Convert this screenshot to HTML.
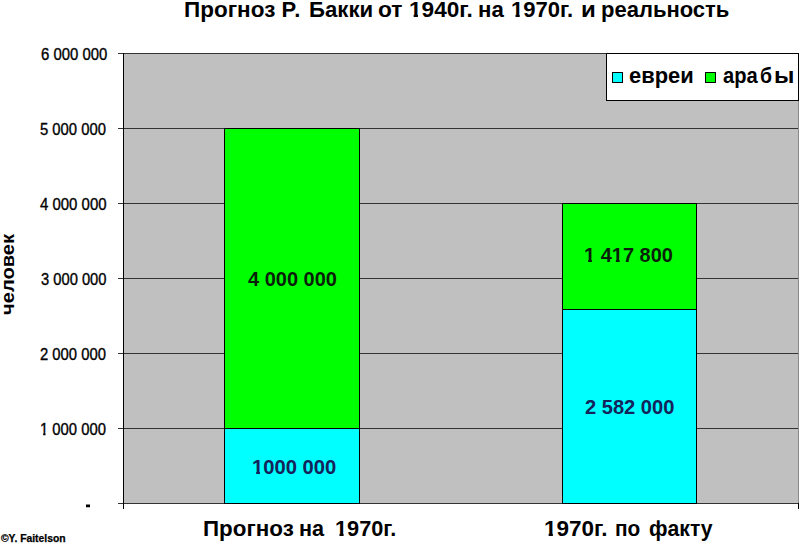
<!DOCTYPE html>
<html>
<head>
<meta charset="utf-8">
<style>
html,body{margin:0;padding:0;background:#fff;}
body{width:800px;height:544px;position:relative;overflow:hidden;font-family:"Liberation Sans",sans-serif;color:#000;}
.t{position:absolute;white-space:nowrap;line-height:1;transform-origin:0 0;}
svg{position:absolute;left:0;top:0;}
.one{display:inline-block;clip-path:polygon(-0.2em -0.2em,0.8em -0.2em,0.8em 0.68em,0.395em 0.68em,0.395em 1.2em,0.205em 1.2em,0.205em 0.68em,-0.2em 0.68em);}
.one.r{clip-path:polygon(-0.2em -0.2em,0.8em -0.2em,0.8em 0.68em,0.37em 0.68em,0.37em 1.2em,0.215em 1.2em,0.215em 0.68em,-0.2em 0.68em);}
</style>
</head>
<body>
<svg width="800" height="544" viewBox="0 0 800 544" shape-rendering="crispEdges">
  <!-- plot area -->
  <rect x="124" y="53" width="674" height="450" fill="#c0c0c0"/>
  <!-- gridlines -->
  <g stroke="#333" stroke-width="1">
    <line x1="118" y1="53.5" x2="798" y2="53.5"/>
    <line x1="118" y1="128.5" x2="798" y2="128.5"/>
    <line x1="118" y1="203.5" x2="798" y2="203.5"/>
    <line x1="118" y1="278.5" x2="798" y2="278.5"/>
    <line x1="118" y1="353.5" x2="798" y2="353.5"/>
    <line x1="118" y1="428.5" x2="798" y2="428.5"/>
    <line x1="118" y1="503.5" x2="799" y2="503.5"/>
  </g>
  <!-- bars -->
  <rect x="224.5" y="128.5" width="135" height="300" fill="#00ff00" stroke="#000"/>
  <rect x="224.5" y="428.5" width="135" height="75" fill="#00ffff" stroke="#000"/>
  <rect x="562.5" y="203.5" width="134" height="106" fill="#00ff00" stroke="#000"/>
  <rect x="562.5" y="309.5" width="134" height="194" fill="#00ffff" stroke="#000"/>
  <line x1="798.5" y1="53" x2="798.5" y2="503" stroke="#8a8a8a"/>
  <!-- axes -->
  <line x1="123.5" y1="53" x2="123.5" y2="509" stroke="#000"/>
  <line x1="798.5" y1="503" x2="798.5" y2="509" stroke="#000"/>
  <!-- legend -->
  <rect x="606.5" y="53.5" width="192" height="47" fill="#fff" stroke="#000"/>
  <rect x="612.5" y="72.5" width="10" height="10" fill="#00ffff" stroke="#000"/>
  <rect x="705.5" y="72.5" width="10" height="10" fill="#00ff00" stroke="#000"/>
  <rect x="86" y="504.5" width="4" height="2.75" fill="#000" shape-rendering="geometricPrecision"/>
</svg>
<div class="t" id="tt0" style="left:183.58px;top:-1.00px;font-size:22px;font-weight:bold;transform:scaleX(1.0236);">Прогноз</div>
<div class="t" id="tt1" style="left:281.60px;top:-1.00px;font-size:22px;font-weight:bold;">Р</div>
<div class="t" id="tt1b" style="left:294.30px;top:-1.00px;font-size:22px;font-weight:bold;">.</div>
<div class="t" id="tt2" style="left:308.76px;top:-1.00px;font-size:22px;font-weight:bold;transform:scaleX(1.0089);">Бакки</div>
<div class="t" id="tt3" style="left:377.75px;top:-1.00px;font-size:22px;font-weight:bold;transform:scaleX(1.0339);">от</div>
<div class="t" id="tt4" style="left:408.55px;top:-1.00px;font-size:22px;font-weight:bold;transform:scaleX(1.0272);"><span class="one">1</span>940г.</div>
<div class="t" id="tt5" style="left:477.98px;top:-1.00px;font-size:22px;font-weight:bold;transform:scaleX(1.0098);">на</div>
<div class="t" id="tt6" style="left:510.57px;top:-1.00px;font-size:22px;font-weight:bold;transform:scaleX(1.0016);"><span class="one">1</span>970г.</div>
<div class="t" id="tt7" style="left:580.87px;top:-1.00px;font-size:22px;font-weight:bold;transform:scaleX(1.0920);">и</div>
<div class="t" id="tt8" style="left:600.80px;top:-1.00px;font-size:22px;font-weight:bold;transform:scaleX(1.0001);">реальность</div>
<div class="t" id="yl0" style="left:40.60px;top:46.60px;font-size:16px;transform:scaleX(0.9308);-webkit-text-stroke:0.35px #000;">6 000 000</div>
<div class="t" id="yl1" style="left:40.10px;top:121.60px;font-size:16px;transform:scaleX(0.9258);-webkit-text-stroke:0.35px #000;">5 000 000</div>
<div class="t" id="yl2" style="left:40.07px;top:196.60px;font-size:16px;transform:scaleX(0.9347);-webkit-text-stroke:0.35px #000;">4 000 000</div>
<div class="t" id="yl3" style="left:40.87px;top:271.60px;font-size:16px;transform:scaleX(0.9201);-webkit-text-stroke:0.35px #000;">3 000 000</div>
<div class="t" id="yl4" style="left:40.10px;top:346.60px;font-size:16px;transform:scaleX(0.9258);-webkit-text-stroke:0.35px #000;">2 000 000</div>
<div class="t" id="yl5" style="left:40.10px;top:421.60px;font-size:16px;transform:scaleX(0.9254);-webkit-text-stroke:0.35px #000;"><span class="one r">1</span> 000 000</div>
<div class="t" id="ytitle" style="left:-2.00px;top:314.70px;font-size:19px;font-weight:bold;transform:rotate(-90deg) scaleX(1.06);">человек</div>
<div class="t" id="d1" style="left:247.58px;top:267.50px;font-size:21px;font-weight:bold;color:#0a1f0a;transform:scaleX(0.9520);">4 000 000</div>
<div class="t" id="d2" style="left:251.54px;top:455.50px;font-size:21px;font-weight:bold;color:#14245a;transform:scaleX(0.9623);"><span class="one">1</span>000 000</div>
<div class="t" id="d3" style="left:584.26px;top:243.50px;font-size:21px;font-weight:bold;color:#0a1f0a;transform:scaleX(0.9512);"><span class="one">1</span> 4<span class="one">1</span>7 800</div>
<div class="t" id="d4" style="left:585.04px;top:395.50px;font-size:21px;font-weight:bold;color:#14245a;transform:scaleX(0.9567);">2 582 000</div>
<div class="t" id="leg1" style="left:628.90px;top:65.40px;font-size:22px;font-weight:bold;transform:scaleX(0.9953);">евреи</div>
<div class="t" id="leg2a" style="left:723.08px;top:65.40px;font-size:22px;font-weight:bold;transform:scaleX(0.9156);">ара</div>
<div class="t" id="leg2b" style="left:759.55px;top:65.40px;font-size:22px;font-weight:bold;transform:scaleX(0.8821);">б</div>
<div class="t" id="leg2c" style="left:773.84px;top:65.40px;font-size:22px;font-weight:bold;transform:scaleX(1.0855);">ы</div>
<div class="t" id="cw0" style="left:202.96px;top:518.00px;font-size:22px;font-weight:bold;transform:scaleX(1.0183);">Прогноз</div>
<div class="t" id="cw1" style="left:299.47px;top:518.00px;font-size:22px;font-weight:bold;transform:scaleX(0.9826);">на</div>
<div class="t" id="cw2" style="left:334.51px;top:518.00px;font-size:22px;font-weight:bold;transform:scaleX(0.9880);"><span class="one">1</span>970г.</div>
<div class="t" id="cw3" style="left:544.37px;top:518.00px;font-size:22px;font-weight:bold;transform:scaleX(1.0221);"><span class="one">1</span>970г.</div>
<div class="t" id="cw4" style="left:614.53px;top:518.00px;font-size:22px;font-weight:bold;transform:scaleX(0.9477);">по</div>
<div class="t" id="cw5" style="left:649.04px;top:518.00px;font-size:22px;font-weight:bold;transform:scaleX(0.9624);">факту</div>
<div class="t" id="copy" style="left:0.95px;top:533.80px;font-size:10px;font-weight:bold;transform:scaleX(1.0346);-webkit-text-stroke:0.25px #000;">©Y. Faitelson</div>
</body>
</html>
